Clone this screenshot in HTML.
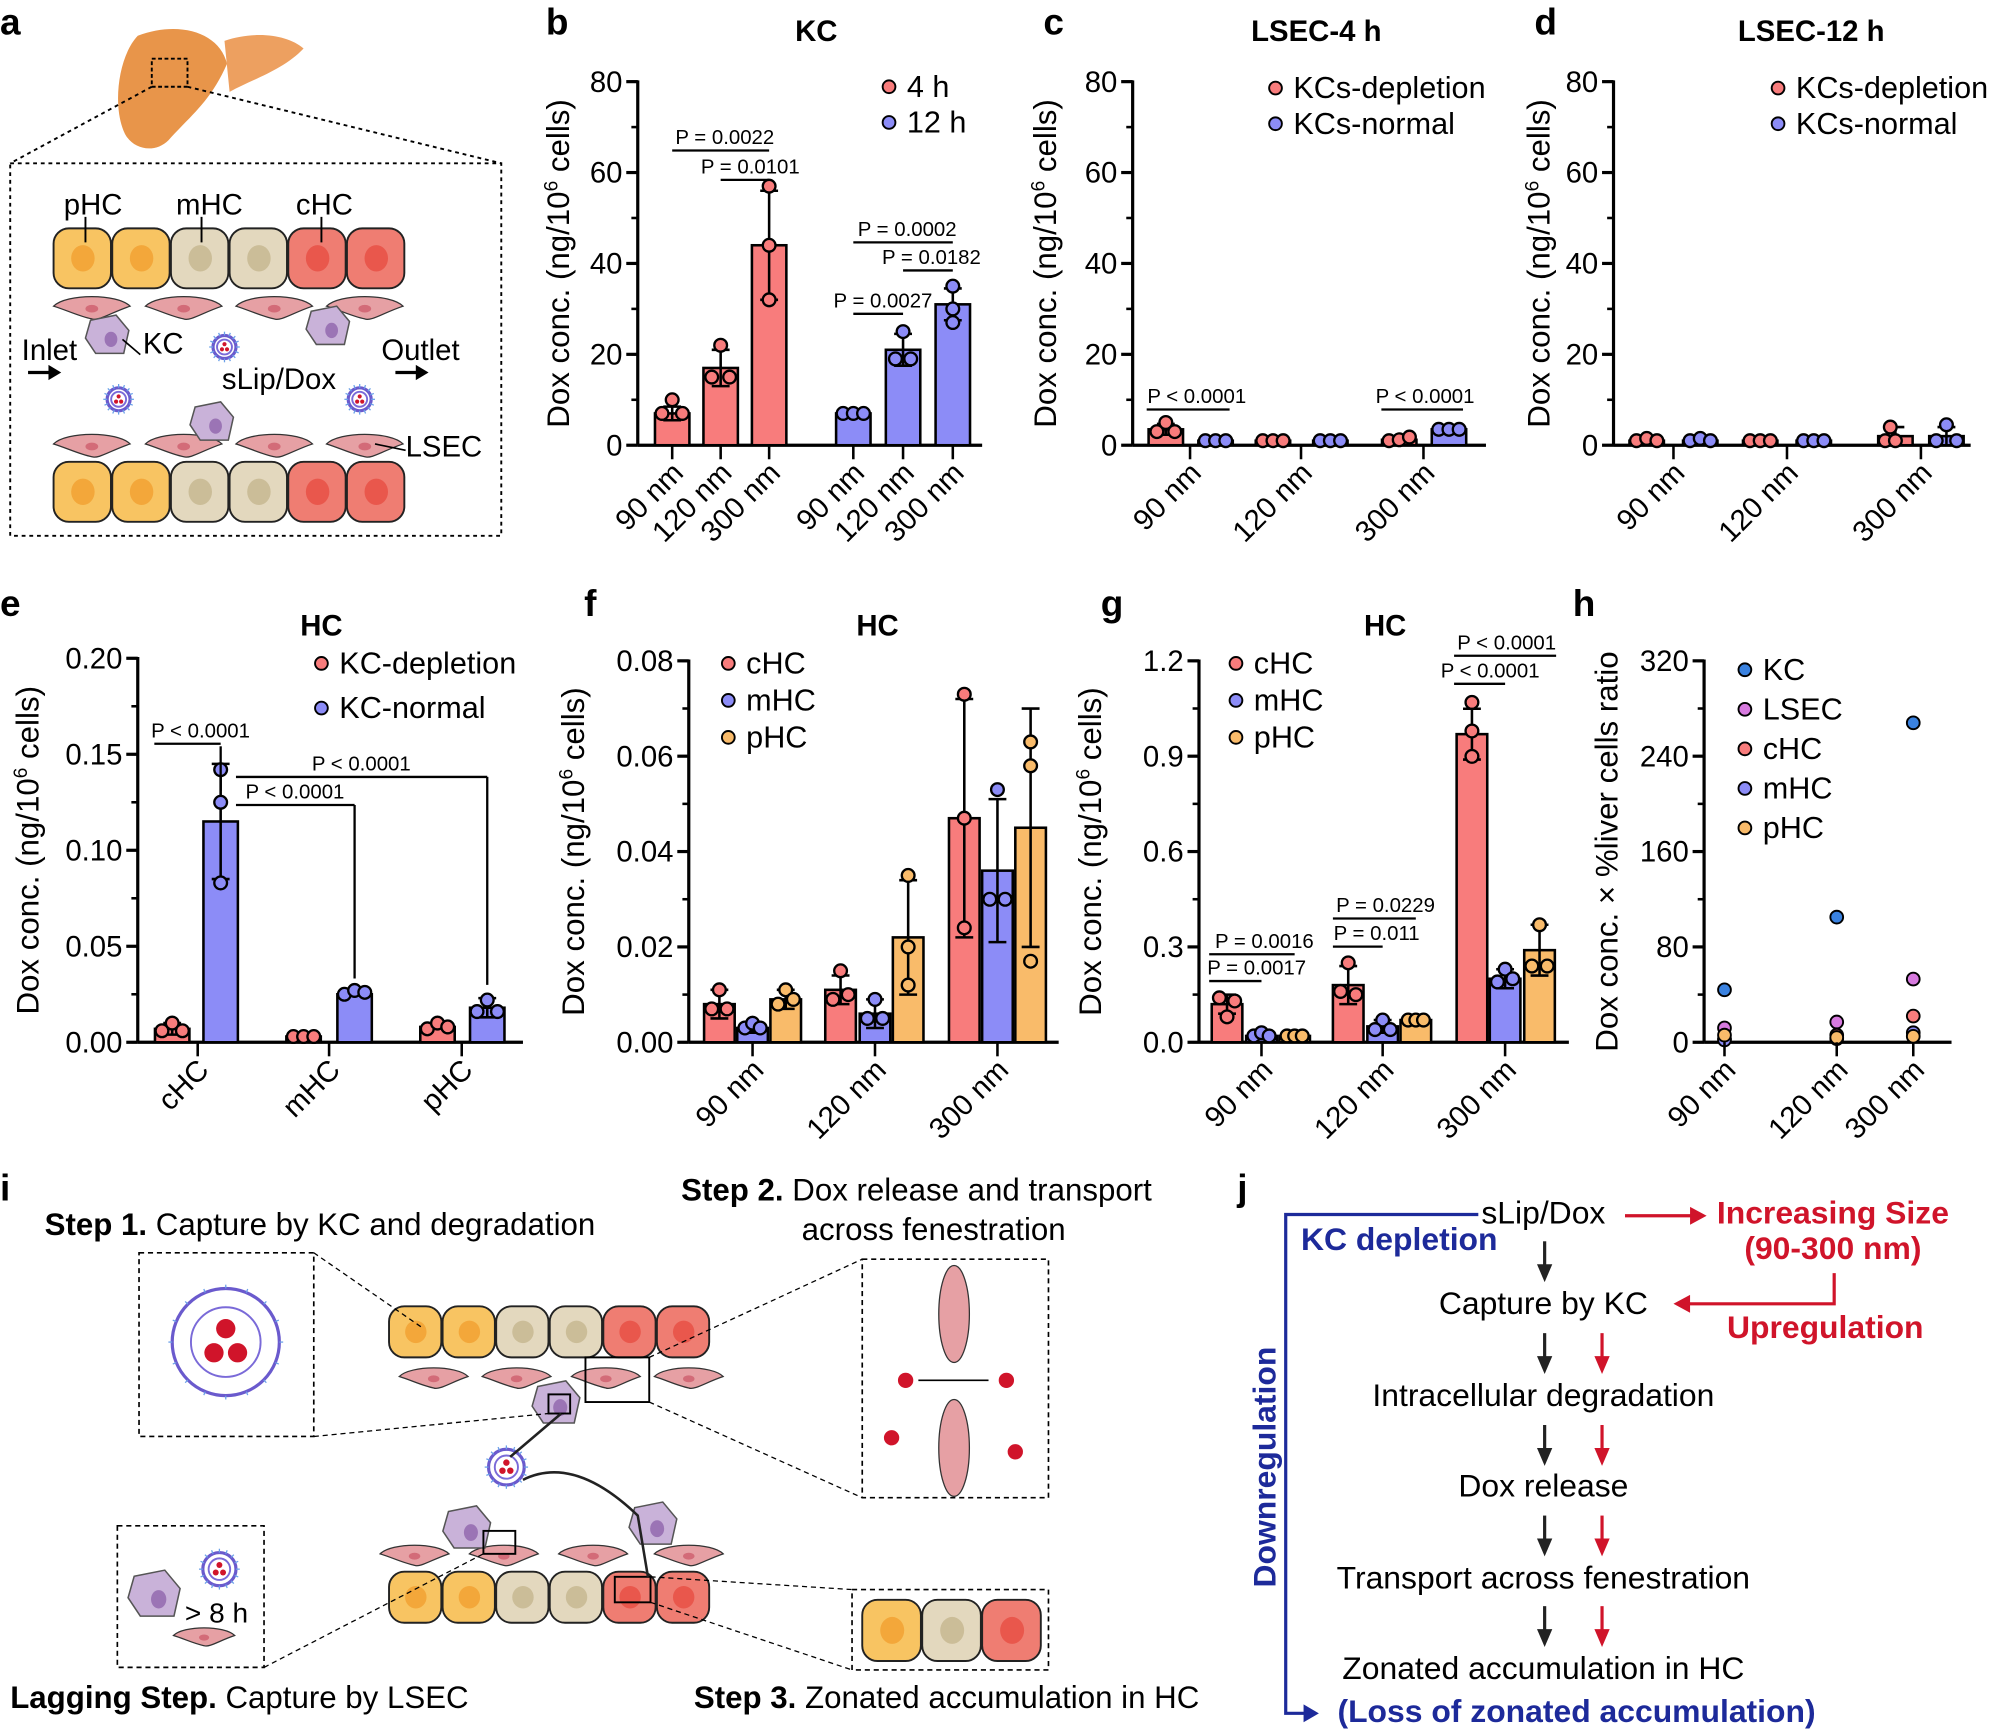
<!DOCTYPE html>
<html><head><meta charset="utf-8"><style>html,body{margin:0;padding:0;background:#fff}svg{display:block}text{font-family:"Liberation Sans",sans-serif}</style></head>
<body>
<svg id="s" width="2000" height="1735" viewBox="0 0 1568 1360" preserveAspectRatio="none" xmlns="http://www.w3.org/2000/svg"></svg>
<script>
var R='#f87c7c',B='#8c8cf7',O='#f9bb6a',o='';
function T(x,y,t,fs,a,extra){o+='<text x="'+x+'" y="'+y+'" font-size="'+(fs||22)+'" text-anchor="'+(a||'start')+'" '+(extra||'')+'>'+t+'</text>';}
function L(x1,y1,x2,y2,w,c,ex){o+='<line x1="'+x1+'" y1="'+y1+'" x2="'+x2+'" y2="'+y2+'" stroke="'+(c||'#000')+'" stroke-width="'+(w||2)+'" '+(ex||'')+'/>';}
function C(x,y,r,f,s,w){o+='<circle cx="'+x+'" cy="'+y+'" r="'+r+'" fill="'+f+'" stroke="'+(s||'none')+'" stroke-width="'+(w||2)+'"/>';}
function Rc(x,y,w,h,f,s,sw,ex){o+='<rect x="'+x+'" y="'+y+'" width="'+w+'" height="'+h+'" fill="'+f+'" stroke="'+(s||'none')+'" stroke-width="'+(sw||2)+'" '+(ex||'')+'/>';}
function axis(x,y0,ytop,ticks,labels,xr,title,ylab,yc){
 L(x,y0,x,ytop-1,2.5);L(x,y0,xr,y0,2.5);
 var n=ticks;for(var i=0;i<=n;i++){var y=y0-(y0-ytop)*i/n;L(x-9,y,x,y,2.5);}
 for(var i=0;i<=n*2;i++){var y=y0-(y0-ytop)*i/(2*n);L(x-5,y,x,y,2);}
 for(var i=0;i<labels.length;i++){var y=y0-(y0-ytop)*i/(labels.length-1);T(x-12,y+8,labels[i],23,'end');}
 o+='<text transform="translate('+(yc)+','+((y0+ytop)/2)+') rotate(-90)" font-size="24.5" text-anchor="middle">'+ylab+'</text>';
}
function bar(cx,w,y0,h,col,pts,err){Rc(cx-w/2,y0-h,w,h,col,'#000',2);
 if(err){L(cx,y0-h-err,cx,y0-h+err,2);L(cx-7,y0-h-err,cx+7,y0-h-err,2);L(cx-7,y0-h+err,cx+7,y0-h+err,2);}
 pts.forEach(function(p){C(cx+p[0],y0-p[1],5,col,'#000',1.8);});}
function xl(x,y,t){o+='<text transform="translate('+x+','+y+') rotate(-45)" font-size="23" text-anchor="end">'+t+'</text>';}
function P(x1,x2,y,t,tx){L(x1,y,x2,y,1.8);T(tx,y-5,t,16,'end');}
function leg(x,y,items,sp){items.forEach(function(it,i){C(x,y+i*sp,5,it[1],'#000',1.5);T(x+14,y+8+i*sp,it[0],24);});}
[['a',0,27],['b',428,27],['c',818,27],['d',1203,27],['e',0,483],['f',458,483],['g',863,483],['h',1233,483],['i',0,941],['j',970,941]].forEach(function(p){T(p[1],p[2],p[0],29,'start','font-weight="bold"');});
var yl='Dox conc. (ng/10<tspan font-size="15" dy="-9">6</tspan><tspan dy="9"> cells)</tspan>';
// ===== b
axis(500,349,64,4,['0','20','40','60','80'],770,'',yl,446);T(640,32,'KC',23,'middle','font-weight="bold"');
var k=3.5625;
bar(527,27,349,7*k,R,[[-8,7*k],[0,10*k],[8,7*k]],1.5*k);
bar(565,27,349,17*k,R,[[-7,15*k],[0,22*k],[7,15*k]],4*k);
bar(603,27,349,44*k,R,[[0,57*k],[0,44*k],[0,32*k]],12*k);
bar(669,27,349,7*k,B,[[-8,7*k],[0,7*k],[8,7*k]]);
bar(708,27,349,21*k,B,[[0,25*k],[-6,19*k],[6,19*k]],3.5*k);
bar(747,27,349,31*k,B,[[0,35*k],[0,30*k],[0,27*k]],3.5*k);
[527,565,603,669,708,747].forEach(function(x,i){L(x,349,x,360,2);xl(x+10,372,['90 nm','120 nm','300 nm'][i%3]);});
P(527,603,118,'P = 0.0022',607);P(565,603,141,'P = 0.0101',627);P(669,747,190,'P = 0.0002',750);P(708,747,212,'P = 0.0182',769);P(669,708,246,'P = 0.0027',731);
leg(697,68,[['4 h',R],['12 h',B]],28);
// ===== c
axis(888,349,64,4,['0','20','40','60','80'],1165,'',yl,828);T(1032,32,'LSEC-4 h',23,'middle','font-weight="bold"');
bar(914,27,349,3.5*k,R,[[-7,3*k],[0,5*k],[7,3*k]],1.2*k);bar(953,27,349,1*k,B,[[-8,1*k],[0,1*k],[8,1*k]]);
bar(998,27,349,1*k,R,[[-8,1*k],[0,1*k],[8,1*k]]);bar(1043,27,349,1*k,B,[[-8,1*k],[0,1*k],[8,1*k]]);
bar(1097,27,349,1.2*k,R,[[-8,1*k],[0,1.2*k],[8,1.8*k]]);bar(1136,27,349,3.5*k,B,[[-8,3.5*k],[0,3.5*k],[8,3.5*k]]);
[933,1020,1116].forEach(function(x,i){L(x,349,x,360,2);xl(x+10,372,['90 nm','120 nm','300 nm'][i]);});
P(899,964,321,'P &lt; 0.0001',977);P(1083,1147,321,'P &lt; 0.0001',1156);
leg(1000,69,[['KCs-depletion',R],['KCs-normal',B]],28);
// ===== d
axis(1265,349,64,4,['0','20','40','60','80'],1545,'',yl,1215);T(1420,32,'LSEC-12 h',23,'middle','font-weight="bold"');
bar(1291,27,349,1*k,R,[[-8,1*k],[0,1.5*k],[8,1*k]]);bar(1333,27,349,1*k,B,[[-8,1*k],[0,1.5*k],[8,1*k]]);
bar(1380,27,349,1*k,R,[[-8,1*k],[0,1*k],[8,1*k]]);bar(1422,27,349,1*k,B,[[-8,1*k],[0,1*k],[8,1*k]]);
bar(1486,27,349,2*k,R,[[-8,1*k],[0,1*k],[-4,4*k]],2*k);bar(1526,27,349,2*k,B,[[-8,1*k],[0,4.5*k],[8,1*k]],2*k);
[1312,1401,1506].forEach(function(x,i){L(x,349,x,360,2);xl(x+10,372,['90 nm','120 nm','300 nm'][i]);});
leg(1394,69,[['KCs-depletion',R],['KCs-normal',B]],28);
// ===== e
axis(108,817,516,4,['0.00','0.05','0.10','0.15','0.20'],410,'',yl,30);T(252,498,'HC',23,'middle','font-weight="bold"');
var e=1505;
bar(135,27,817,0.007*e,R,[[-8,.006*e],[0,.01*e],[8,.006*e]],.003*e);
bar(173,27,817,0.115*e,B,[[0,.142*e],[0,.125*e],[0,.083*e]],.03*e);
bar(238,27,817,0.003*e,R,[[-8,.003*e],[0,.003*e],[8,.003*e]]);
bar(278,27,817,0.025*e,B,[[-8,.025*e],[0,.027*e],[8,.026*e]]);
bar(343,27,817,0.008*e,R,[[-8,.007*e],[0,.01*e],[8,.008*e]]);
bar(382,27,817,0.018*e,B,[[-8,.016*e],[0,.022*e],[8,.016*e]],.005*e);
[155,258,362].forEach(function(x,i){L(x,817,x,828,2);xl(x+10,840,['cHC','mHC','pHC'][i]);});
P(121,173,583,'P &lt; 0.0001',196);L(173,585,173,620,1.8);
L(185,609,382,609,1.8);L(382,609,382,772,1.8);T(322,604,'P &lt; 0.0001',16,'end');
L(185,631,278,631,1.8);L(278,631,278,767,1.8);T(270,626,'P &lt; 0.0001',16,'end');
leg(252,520,[['KC-depletion',R],['KC-normal',B]],35);
// ===== f
axis(540,817,518,4,['0.00','0.02','0.04','0.06','0.08'],830,'',yl,458);T(688,498,'HC',23,'middle','font-weight="bold"');
var f=3737;
function g3(xs,hs,pts,errs,sc){var cs=[R,B,O];for(var i=0;i<3;i++)bar(xs[i],24,817,hs[i]*sc,cs[i],pts[i].map(function(p){return[p[0],p[1]*sc]}),errs[i]*sc);}
g3([564,590,616],[.008,.003,.009],[[[0,.011],[-6,.007],[6,.007]],[[-6,.003],[0,.004],[6,.003]],[[-6,.008],[0,.011],[6,.009]]],[.003,.001,.002],f);
g3([659,686,712],[.011,.006,.022],[[[0,.015],[-6,.009],[6,.01]],[[0,.009],[-6,.005],[6,.005]],[[0,.035],[0,.02],[0,.012]]],[.003,.003,.012],f);
g3([756,782,808],[.047,.036,.045],[[[0,.073],[0,.024],[0,.047]],[[0,.053],[-6,.03],[6,.03]],[[0,.063],[0,.058],[0,.017]]],[.025,.015,.025],f);
[590,686,782].forEach(function(x,i){L(x,817,x,828,2);xl(x+10,840,['90 nm','120 nm','300 nm'][i]);});
leg(571,520,[['cHC',R],['mHC',B],['pHC',O]],29);
// ===== g
axis(940,817,518,4,['0.0','0.3','0.6','0.9','1.2'],1230,'',yl,863);T(1086,498,'HC',23,'middle','font-weight="bold"');
var gg=249;
g3([962,989,1015],[.12,.02,.02],[[[-6,.14],[6,.13],[0,.08]],[[-6,.02],[0,.03],[6,.02]],[[-6,.02],[0,.02],[6,.02]]],[.03,.01,.01],gg);
g3([1057,1084,1110],[.18,.05,.07],[[[0,.25],[-6,.16],[6,.15]],[[0,.07],[-6,.04],[6,.04]],[[-6,.07],[0,.07],[6,.07]]],[.06,.02,.01],gg);
g3([1154,1180,1207],[.97,.2,.29],[[[0,1.07],[0,.98],[0,.9]],[[0,.23],[-6,.19],[6,.2]],[[0,.37],[-6,.24],[6,.24]]],[.08,.03,.08],gg);
[989,1084,1180].forEach(function(x,i){L(x,817,x,828,2);xl(x+10,840,['90 nm','120 nm','300 nm'][i]);});
P(948,1015,748,'P = 0.0016',1030);P(948,989,769,'P = 0.0017',1024);P(1045,1110,720,'P = 0.0229',1125);P(1045,1084,742,'P = 0.011',1113);
P(1140,1220,514,'P &lt; 0.0001',1220);P(1140,1180,536,'P &lt; 0.0001',1207);
leg(969,520,[['cHC',R],['mHC',B],['pHC',O]],29);
// ===== h
axis(1336,817,518,4,['0','80','160','240','320'],1530,'','Dox conc. × %liver cells ratio',1268);
var hs=299/320, P2='#3a82e0',M='#d77adf';
[[1352,[44,12,3,2,6],],[1440,[105,17,6,3,4]],[1500,[268,53,22,8,5]]].forEach(function(g,i){var cs=[P2,M,R,B,O];g[1].forEach(function(v,j){C(g[0],817-v*hs,5,cs[j],'#000',1.5);});L(g[0],817,g[0],828,2);xl(g[0]+10,840,['90 nm','120 nm','300 nm'][i]);});
leg(1368,525,[['KC',P2],['LSEC',M],['cHC',R],['mHC',B],['pHC',O]],31);
// ===== a
o+='<path d="M108,28 C92,45 88,85 98,105 C105,118 122,120 132,110 C148,92 165,80 178,50 C172,25 140,16 108,28Z" fill="#e8954a"/><path d="M176,32 C200,24 225,27 238,38 C222,55 198,62 180,72Z" fill="#eda060"/>';
Rc(119,46,28,22,'none','#000',1.5,'stroke-dasharray="3,2"');
L(119,68,8,128,1.5,'#000','stroke-dasharray="3,3"');L(147,68,393,128,1.5,'#000','stroke-dasharray="3,3"');
Rc(8,128,385,292,'none','#000',1.5,'stroke-dasharray="3,3"');
function cells(x,y,w,h,n,cols){for(var i=0;i<n;i++){var c=cols[i];o+='<rect x="'+(x+i*w)+'" y="'+y+'" width="'+(w-1)+'" height="'+h+'" rx="12" fill="'+c[0]+'" stroke="#222" stroke-width="1.5"/>';o+='<ellipse cx="'+(x+i*w+w/2)+'" cy="'+(y+h/2)+'" rx="'+(w*0.2)+'" ry="'+(h*0.22)+'" fill="'+c[1]+'"/>';}}
var HC=[['#f8c462','#f3a73a'],['#f8c462','#f3a73a'],['#e3d8be','#cbbd98'],['#e3d8be','#cbbd98'],['#ef7d72','#e9574c'],['#ef7d72','#e9574c']];
cells(42,179,46,47,6,HC);cells(42,362,46,47,6,HC);
T(50,168,'pHC',23);T(138,168,'mHC',23);T(232,168,'cHC',23);L(67,170,67,190,1.5);L(158,170,158,190,1.5);L(252,170,252,190,1.5);
function lsec(x,y,s){s=s||1;o+='<path d="M'+(x-30*s)+','+y+' C'+(x-20*s)+','+(y-10*s)+' '+(x+20*s)+','+(y-10*s)+' '+(x+30*s)+','+y+' C'+(x+15*s)+','+(y+5*s)+' '+(x+5*s)+','+(y+12*s)+' '+x+','+(y+10*s)+' C'+(x-10*s)+','+(y+8*s)+' '+(x-20*s)+','+(y+3*s)+' '+(x-30*s)+','+y+'Z" fill="#e6a0a4" stroke="#333" stroke-width="1"/><ellipse cx="'+x+'" cy="'+(y+2*s)+'" rx="'+(5*s)+'" ry="'+(3*s)+'" fill="#d36b78"/>';}
[72,144,215,286].forEach(function(x){lsec(x,240);lsec(x,348);});
function kc(x,y,s){s=s||1;o+='<path d="M'+(x-14*s)+','+(y-12*s)+' L'+(x+6*s)+','+(y-16*s)+' L'+(x+16*s)+','+(y-4*s)+' L'+(x+12*s)+','+(y+14*s)+' L'+(x-10*s)+','+(y+14*s)+' L'+(x-18*s)+','+(y+2*s)+'Z" fill="#c9b2d9" stroke="#555" stroke-width="1.2"/><ellipse cx="'+(x+2*s)+'" cy="'+(y+3*s)+'" rx="'+(5*s)+'" ry="'+(6*s)+'" fill="#9b74b5"/>';}
kc(85,263);kc(258,256);kc(167,331);
function lip(x,y,r){C(x,y,r,'#fff','#6a5acd',2.5);C(x,y,r*0.65,'#fff','#7a6ad8',1.5);C(x,y-r*0.25,r*0.18,'#d0142a');C(x-r*0.22,y+r*0.2,r*0.18,'#d0142a');C(x+r*0.22,y+r*0.2,r*0.18,'#d0142a');for(var a=0;a<16;a++){var t=a*Math.PI/8;L(x+r*Math.cos(t),y+r*Math.sin(t),x+(r+3)*Math.cos(t),y+(r+3)*Math.sin(t),1,'#6aa0e8');}}
lip(176,272,9);lip(93,313,9);lip(282,313,9);
T(17,282,'Inlet',23);T(112,277,'KC',23);T(174,305,'sLip/Dox',23);T(299,282,'Outlet',23);T(318,358,'LSEC',23);
L(22,292,42,292,2.5);o+='<path d="M48,292 L38,286 L38,298Z"/>';L(310,292,330,292,2.5);o+='<path d="M336,292 L326,286 L326,298Z"/>';
L(96,266,110,278,1.3);L(294,348,318,353,1.3);
// ===== i
T(35,968,'<tspan font-weight="bold">Step 1.</tspan> Capture by KC and degradation',24.5);
T(534,941,'<tspan font-weight="bold">Step 2.</tspan> Dox release and transport',24.5);T(732,972,'across fenestration',24.5,'middle');
T(8,1339,'<tspan font-weight="bold">Lagging Step.</tspan> Capture by LSEC',24.5);
T(544,1339,'<tspan font-weight="bold">Step 3.</tspan> Zonated accumulation in HC',24.5);
var ds='stroke-dasharray="4,3"';
Rc(109,982,137,144,'none','#000',1.3,ds);lip(177,1052,42);
Rc(676,987,146,187,'none','#000',1.3,ds);
o+='<ellipse cx="748" cy="1030" rx="12" ry="38" fill="#e6a0a4" stroke="#333"/><ellipse cx="748" cy="1135" rx="12" ry="38" fill="#e6a0a4" stroke="#333"/>';
C(710,1082,6,'#d0142a');C(789,1082,6,'#d0142a');C(699,1127,6,'#d0142a');C(796,1138,6,'#d0142a');L(720,1082,775,1082,1.3);
Rc(92,1196,115,111,'none','#000',1.3,ds);kc(122,1250,1.2);lip(172,1230,13);lsec(160,1282,0.8);T(145,1272,'&gt; 8 h',22);
Rc(668,1246,154,63,'none','#000',1.3,ds);cells(676,1254,47,48,3,[HC[0],HC[2],HC[4]]);
cells(305,1024,42,40,6,HC);cells(305,1232,42,40,6,HC);
[340,405,475,540].forEach(function(x){lsec(x,1079,0.9);});[325,395,465,540].forEach(function(x){lsec(x,1218,0.9);});
kc(437,1100,1.1);kc(367,1198,1.1);kc(513,1195,1.1);lip(397,1150,14);
Rc(459,1064,50,35,'none','#000',1.5);Rc(430,1093,17,15,'none','#000',1.5);Rc(379,1200,25,18,'none','#000',1.5);Rc(482,1236,28,20,'none','#000',1.5);
L(246,982,330,1040,1,'#000',ds);L(246,1126,430,1108,1,'#000',ds);L(509,1064,676,987,1,'#000',ds);L(509,1099,676,1174,1,'#000',ds);
L(207,1307,379,1218,1,'#000',ds);L(510,1256,668,1309,1,'#000',ds);L(510,1236,668,1246,1,'#000',ds);
o+='<path d="M440,1108 L400,1142 M410,1160 Q450,1140 500,1188 L508,1236" fill="none" stroke="#222" stroke-width="2"/>';
// ===== j
var BL='#1d2a9a',RD='#d0142a';
T(1210,959,'sLip/Dox',25,'middle');T(1210,1030,'Capture by KC',25,'middle');T(1210,1102,'Intracellular degradation',25,'middle');
T(1210,1173,'Dox release',25,'middle');T(1210,1245,'Transport across fenestration',25,'middle');T(1210,1316,'Zonated accumulation in HC',25,'middle');
T(1236,1350,'(Loss of zonated accumulation)',25,'middle','font-weight="bold" fill="'+BL+'"');
T(1097,980,'KC depletion',25,'middle','font-weight="bold" fill="'+BL+'"');
T(1437,959,'Increasing Size',25,'middle','font-weight="bold" fill="'+RD+'"');T(1437,987,'(90-300 nm)',25,'middle','font-weight="bold" fill="'+RD+'"');
T(1431,1049,'Upregulation',25,'middle','font-weight="bold" fill="'+RD+'"');
o+='<text transform="translate(1000,1150) rotate(-90)" font-size="25" text-anchor="middle" font-weight="bold" fill="'+BL+'">Downregulation</text>';
o+='<path d="M1159,952 L1008,952 L1008,1343 L1025,1343" fill="none" stroke="'+BL+'" stroke-width="2.5"/><path d="M1034,1343 L1022,1336 L1022,1350Z" fill="'+BL+'"/>';
o+='<path d="M1274,953 L1328,953" stroke="'+RD+'" stroke-width="2.5"/><path d="M1338,953 L1325,946 L1325,960Z" fill="'+RD+'"/>';
o+='<path d="M1438,998 L1438,1022 L1322,1022" fill="none" stroke="'+RD+'" stroke-width="2.5"/><path d="M1312,1022 L1325,1015 L1325,1029Z" fill="'+RD+'"/>';
function arr(x,y,c){L(x,y,x,y+22,2.5,c);o+='<path d="M'+x+','+(y+32)+' L'+(x-6)+','+(y+18)+' L'+(x+6)+','+(y+18)+'Z" fill="'+c+'"/>';}
[973,1045,1117,1188,1259].forEach(function(y,i){arr(1211,y,'#222');if(i>0)arr(1256,y,RD);});
document.getElementById('s').innerHTML=o;
</script>
</body></html>
